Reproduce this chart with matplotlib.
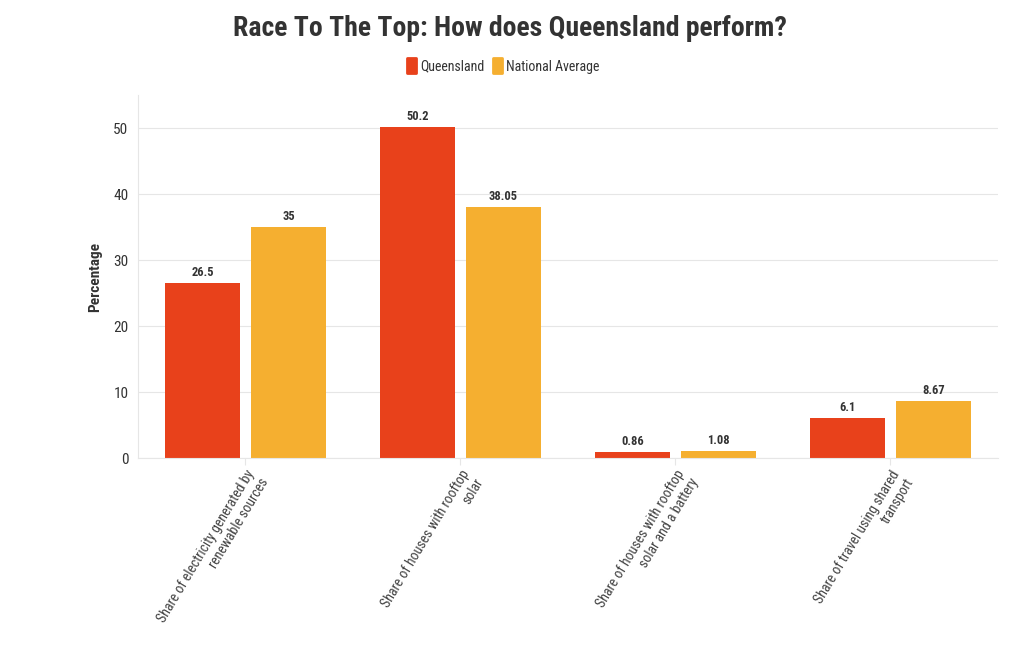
import matplotlib
matplotlib.use("Agg")
import matplotlib.pyplot as plt
from matplotlib import font_manager as fm
from matplotlib.transforms import ScaledTranslation
import numpy as np

categories = ["Share of electricity generated by\nrenewable sources",
              "Share of houses with rooftop\nsolar",
              "Share of houses with rooftop\nsolar and a battery",
              "Share of travel using shared\ntransport"]
queensland = [26.5, 50.2, 0.86, 6.1]
national = [35, 38.05, 1.08, 8.67]
q_labels = ["26.5", "50.2", "0.86", "6.1"]
n_labels = ["35", "38.05", "1.08", "8.67"]
yticks = [0, 10, 20, 30, 40, 50]

names = {f.name for f in fm.fontManager.ttflist}
fam = "Roboto Condensed" if "Roboto Condensed" in names else (
    "Liberation Sans Narrow" if "Liberation Sans Narrow" in names else "Roboto")
plt.rcParams['font.family'] = [fam, 'DejaVu Sans']

RED = "#E8411B"
ORANGE = "#F5AF30"
TXT = "#333333"

fig = plt.figure(figsize=(10.2, 6.5), dpi=100)
ax = fig.add_axes([138/1020, 1-458/650, 860/1020, 363/650])

x = np.arange(len(categories))
w = 0.349
gap = 0.051
off = w/2 + gap/2
ax.bar(x - off, queensland, width=w, color=RED, label="Queensland")
ax.bar(x + off, national, width=w, color=ORANGE, label="National Average")

for i in range(len(categories)):
    ax.annotate(q_labels[i], (x[i] - off, queensland[i]), xytext=(0, 3),
                textcoords="offset points", ha="center", va="bottom",
                fontsize=9, fontweight="bold", color=TXT)
    ax.annotate(n_labels[i], (x[i] + off, national[i]), xytext=(0, 3),
                textcoords="offset points", ha="center", va="bottom",
                fontsize=9, fontweight="bold", color=TXT)

ax.set_xlim(-0.5, len(categories) - 0.5)
ax.set_ylim(0, 55)
ax.set_yticks(yticks)
ax.set_yticklabels([str(v) for v in yticks], fontsize=11, color=TXT)
ax.set_xticks(x)
ax.set_xticklabels(categories, rotation=59, ha="right", rotation_mode="anchor",
                   fontsize=10, color="#444444", multialignment="right")
shift = ScaledTranslation(3.5/100, 0, fig.dpi_scale_trans)
for lab in ax.get_xticklabels():
    lab.set_transform(lab.get_transform() + shift)
ax.tick_params(axis="x", length=5, color="#e6e6e6", pad=2)
ax.tick_params(axis="y", length=0, pad=7)
ax.grid(axis="y", color="#e6e6e6", linewidth=0.8)
ax.set_axisbelow(True)
for s in ["top", "right"]:
    ax.spines[s].set_visible(False)
ax.spines["left"].set_color("#e6e6e6")
ax.spines["bottom"].set_color("#e6e6e6")
ax.set_ylabel("Percentage", fontsize=11, fontweight="bold", color=TXT, labelpad=8)

fig.text(510/1020, 1-28/650, "Race To The Top: How does Queensland perform?",
         ha="center", va="center", fontsize=20, fontweight="bold", color=TXT)

leg = fig.legend(loc="center", bbox_to_anchor=(503/1020, 1-66/650), ncol=2,
                 frameon=False, fontsize=10, handlelength=0.65, handleheight=1.25,
                 handletextpad=0.3, columnspacing=0.6)
for t in leg.get_texts():
    t.set_color(TXT)
for h in leg.legend_handles:
    h.set_joinstyle("round")
    h.set_linewidth(2)
    h.set_edgecolor(h.get_facecolor())

fig.savefig("out.png", dpi=100)
